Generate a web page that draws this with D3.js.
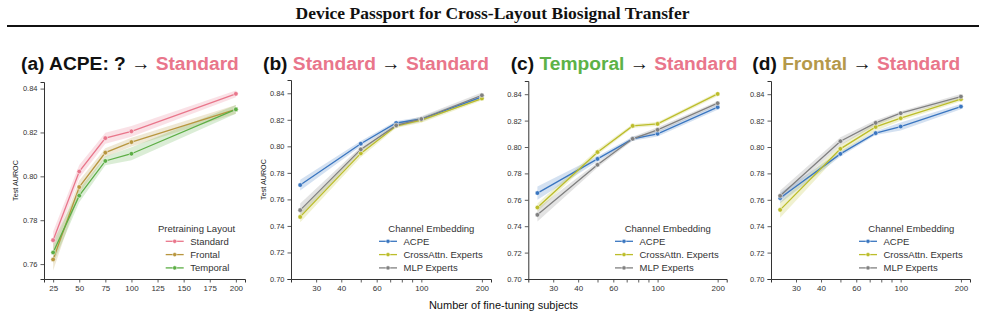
<!DOCTYPE html>
<html>
<head>
<meta charset="utf-8">
<script src="https://cdn.jsdelivr.net/npm/d3@7"></script>
<style>
  body { margin: 0; background: #fff; }
  svg { display: block; font-family: "Liberation Sans", Arial, sans-serif; }
</style>
</head>
<body>
<svg id="chart" width="985" height="318"></svg>
<script>
// ---- data ----
var subjects = [25, 50, 75, 100, 200];

// (a) ACPE, pretraining layout -> Standard
var aStandard = [0.7709, 0.8022, 0.8174, 0.8205, 0.8376];
var aStandardCi = [0.004, 0.003, 0.0025, 0.0025, 0.0015];
var aFrontal = [0.7621, 0.7951, 0.8108, 0.8156, 0.8305];
var aFrontalCi = [0.005, 0.003, 0.002, 0.002, 0.002];
var aTemporal = [0.7653, 0.7912, 0.8070, 0.8103, 0.8305];
var aTemporalCi = [0.005, 0.003, 0.002, 0.003, 0.002];

// (b) Standard -> Standard
var bAcpe = [0.7708, 0.8020, 0.8176, 0.8206, 0.8372];
var bAcpeCi = [0.004, 0.002, 0.0015, 0.0015, 0.0015];
var bCross = [0.7468, 0.7947, 0.8153, 0.8198, 0.8360];
var bCrossCi = [0.004, 0.003, 0.0015, 0.002, 0.0015];
var bMlp = [0.7519, 0.7977, 0.8158, 0.8206, 0.8385];
var bMlpCi = [0.005, 0.002, 0.0015, 0.002, 0.002];

// (c) Temporal -> Standard
var cAcpe = [0.7651, 0.7910, 0.8062, 0.8100, 0.8302];
var cAcpeCi = [0.005, 0.002, 0.0015, 0.002, 0.002];
var cCross = [0.7542, 0.7961, 0.8160, 0.8175, 0.8402];
var cCrossCi = [0.003, 0.002, 0.0015, 0.0015, 0.0015];
var cMlp = [0.7486, 0.7865, 0.8062, 0.8130, 0.8332];
var cMlpCi = [0.005, 0.002, 0.0015, 0.002, 0.0015];

// (d) Frontal -> Standard
var dAcpe = [0.7613, 0.7948, 0.8105, 0.8155, 0.8306];
var dAcpeCi = [0.004, 0.002, 0.0015, 0.003, 0.002];
var dCross = [0.7524, 0.7986, 0.8152, 0.8218, 0.8362];
var dCrossCi = [0.006, 0.003, 0.003, 0.002, 0.0015];
var dMlp = [0.7630, 0.8044, 0.8183, 0.8256, 0.8382];
var dMlpCi = [0.004, 0.003, 0.002, 0.0015, 0.002];

var layoutNames = ["Standard", "Frontal", "Temporal"];
var embedNames = ["ACPE", "CrossAttn. Experts", "MLP Experts"];
var linearTicks = [25, 50, 75, 100, 125, 150, 175, 200];
var logTicks = [30, 40, 50, 60, 70, 80, 90, 100, 200];
var logTickLabels = [30, 40, 60, 100, 200];
var yTicksA = [0.76, 0.78, 0.80, 0.82, 0.84];
var yTicksB = [0.70, 0.72, 0.74, 0.76, 0.78, 0.80, 0.82, 0.84];

// ---- styling ----
var pink = "#e9768b", gold = "#b5994a", green = "#5db247";
var layoutColor = [pink, "#b8963f", "#5cae45"];
var embedColor = ["#3a76c0", "#bcbd2a", "#808080"];

function makeSeries(names, colors, means, cis) {
	return names.map(function(n, i) {
		return {
			name: n,
			color: colors[i],
			values: subjects.map(function(s, j) {
				return { x: s, y: means[i][j], lo: means[i][j] - cis[i][j], hi: means[i][j] + cis[i][j] };
			})
		};
	});
}

var panels = [
	{
		title: [["(a) ACPE: ? \u2192 ", "#111"], ["Standard", pink]], titleX: 21,
		left: 44, right: 245, top: 82, yDomain: [0.7532, 0.843], yTicks: yTicksA,
		log: false, yLabelX: 15.5,
		legendTitle: "Pretraining Layout", legTitleX: 158, legLineX: 165.7,
		series: makeSeries(layoutNames, layoutColor, [aStandard, aFrontal, aTemporal], [aStandardCi, aFrontalCi, aTemporalCi])
	},
	{
		title: [["(b) ", "#111"], ["Standard", pink], [" \u2192 ", "#111"], ["Standard", pink]], titleX: 263,
		left: 291, right: 491, top: 80, yDomain: [0.70, 0.85], yTicks: yTicksB,
		log: true, yLabelX: 263,
		legendTitle: "Channel Embedding", legTitleX: 388.3, legLineX: 379,
		series: makeSeries(embedNames, embedColor, [bAcpe, bCross, bMlp], [bAcpeCi, bCrossCi, bMlpCi])
	},
	{
		title: [["(c) ", "#111"], ["Temporal", green], [" \u2192 ", "#111"], ["Standard", pink]], titleX: 510.7,
		left: 528.3, right: 726.7, top: 81, yDomain: [0.70, 0.85], yTicks: yTicksB,
		log: true, yLabelX: null,
		legendTitle: "Channel Embedding", legTitleX: 624.7, legLineX: 615,
		series: makeSeries(embedNames, embedColor, [cAcpe, cCross, cMlp], [cAcpeCi, cCrossCi, cMlpCi])
	},
	{
		title: [["(d) ", "#111"], ["Frontal", gold], [" \u2192 ", "#111"], ["Standard", pink]], titleX: 752.3,
		left: 771, right: 970, top: 81, yDomain: [0.70, 0.85], yTicks: yTicksB,
		log: true, yLabelX: null,
		legendTitle: "Channel Embedding", legTitleX: 868.3, legLineX: 859,
		series: makeSeries(embedNames, embedColor, [dAcpe, dCross, dMlp], [dAcpeCi, dCrossCi, dMlpCi])
	}
];

var bottom = 279;
var svg = d3.select("#chart");

// Figure title and rule
svg.append("text")
		.attr("x", 492.5)
		.attr("y", 18.5)
		.attr("text-anchor", "middle")
		.style("font-family", "'Liberation Serif', 'Times New Roman', serif")
		.style("font-weight", "bold")
		.style("font-size", "17.5px")
		.style("fill", "#111")
		.text("Device Passport for Cross-Layout Biosignal Transfer");

svg.append("line")
		.attr("x1", 7).attr("x2", 979)
		.attr("y1", 26).attr("y2", 26)
		.style("stroke", "#111")
		.style("stroke-width", 2);

panels.forEach(function(p) {
	var x = p.log
			? d3.scaleLog().domain([22.5, 222]).range([p.left, p.right])
			: d3.scaleLinear().domain([16.25, 208.75]).range([p.left, p.right]);
	var y = d3.scaleLinear().domain(p.yDomain).range([bottom, p.top]);

	var g = svg.append("g");

	// Panel title
	var t = g.append("text")
			.attr("x", p.titleX)
			.attr("y", 69.5)
			.style("font-weight", "bold")
			.style("font-size", "19.2px");
	p.title.forEach(function(part) {
		t.append("tspan").style("fill", part[1]).text(part[0]);
	});

	// Axes
	var xAxis = d3.axisBottom(x).tickSizeOuter(0).tickSize(3.5).tickPadding(3);
	if (p.log) {
		xAxis.tickValues(logTicks).tickFormat(function(d) { return logTickLabels.indexOf(d) >= 0 ? d : ""; });
	} else {
		xAxis.tickValues(linearTicks).tickFormat(d3.format("d"));
	}
	var yAxis = d3.axisLeft(y).tickValues(p.yTicks).tickFormat(d3.format(".2f")).tickSizeOuter(0).tickSize(3.5).tickPadding(3);

	var gx = g.append("g").attr("transform", "translate(0," + bottom + ")").call(xAxis);
	var gy = g.append("g").attr("transform", "translate(" + p.left + ",0)").call(yAxis);

	[gx, gy].forEach(function(ax) {
		ax.select(".domain").style("stroke", "#333").style("stroke-width", 1);
		ax.selectAll(".tick line").style("stroke", "#333").style("stroke-width", 0.8);
		ax.selectAll(".tick text")
				.style("font-family", "'Liberation Sans', Arial, sans-serif")
				.style("fill", "#333");
	});
	gx.selectAll(".tick text").style("font-size", "8px");
	gy.selectAll(".tick text").style("font-size", "7.5px");

	if (p.yLabelX !== null) {
		g.append("text")
				.attr("transform", "translate(" + p.yLabelX + "," + ((bottom + p.top) / 2) + ") rotate(-90)")
				.attr("text-anchor", "middle")
				.attr("dy", "0.35em")
				.style("font-size", "7.2px")
				.style("fill", "#222")
				.text("Test AUROC");
	}

	// Bands, lines, markers
	var area = d3.area()
			.x(function(d) { return x(d.x); })
			.y0(function(d) { return y(d.lo); })
			.y1(function(d) { return y(d.hi); });
	var line = d3.line()
			.x(function(d) { return x(d.x); })
			.y(function(d) { return y(d.y); });

	var body = g.append("g");
	body.selectAll(".band")
		.data(p.series)
		.enter().append("path")
			.attr("class", "band")
			.attr("d", function(d) { return area(d.values); })
			.style("fill", function(d) { return d.color; })
			.style("fill-opacity", 0.22)
			.style("stroke", "none");

	body.selectAll(".line")
		.data(p.series)
		.enter().append("path")
			.attr("class", "line")
			.attr("d", function(d) { return line(d.values); })
			.style("fill", "none")
			.style("stroke", function(d) { return d.color; })
			.style("stroke-width", 1.3);

	var dots = body.selectAll(".dots")
		.data(p.series)
		.enter().append("g");
	dots.selectAll("circle")
		.data(function(d) { return d.values.map(function(v) { return { x: v.x, y: v.y, color: d.color }; }); })
		.enter().append("circle")
			.attr("cx", function(d) { return x(d.x); })
			.attr("cy", function(d) { return y(d.y); })
			.attr("r", 2.3)
			.style("fill", function(d) { return d.color; })
			.style("stroke", "#fff")
			.style("stroke-width", 0.5);

	// Legend
	var legend = g.append("g");
	legend.append("text")
			.attr("x", p.legTitleX)
			.attr("y", 229)
			.attr("dy", "0.35em")
			.style("font-size", "9.5px")
			.style("fill", "#333")
			.text(p.legendTitle);

	var item = legend.selectAll(".item")
		.data(p.series)
		.enter().append("g")
			.attr("transform", function(d, i) { return "translate(" + p.legLineX + "," + (241.3 + i * 13.3) + ")"; });
	item.append("line")
			.attr("x1", 0).attr("x2", 18)
			.style("stroke", function(d) { return d.color; })
			.style("stroke-width", 1.3);
	item.append("circle")
			.attr("cx", 9).attr("r", 2.1)
			.style("fill", function(d) { return d.color; })
			.style("stroke", "#fff")
			.style("stroke-width", 0.5);
	item.append("text")
			.attr("x", 24.5)
			.attr("dy", "0.35em")
			.style("font-size", "9.5px")
			.style("fill", "#333")
			.text(function(d) { return d.name; });
});

// Shared x label
svg.append("text")
		.attr("x", 503.5)
		.attr("y", 309)
		.attr("text-anchor", "middle")
		.style("font-size", "11px")
		.style("fill", "#111")
		.text("Number of fine-tuning subjects");
</script>
</body>
</html>
